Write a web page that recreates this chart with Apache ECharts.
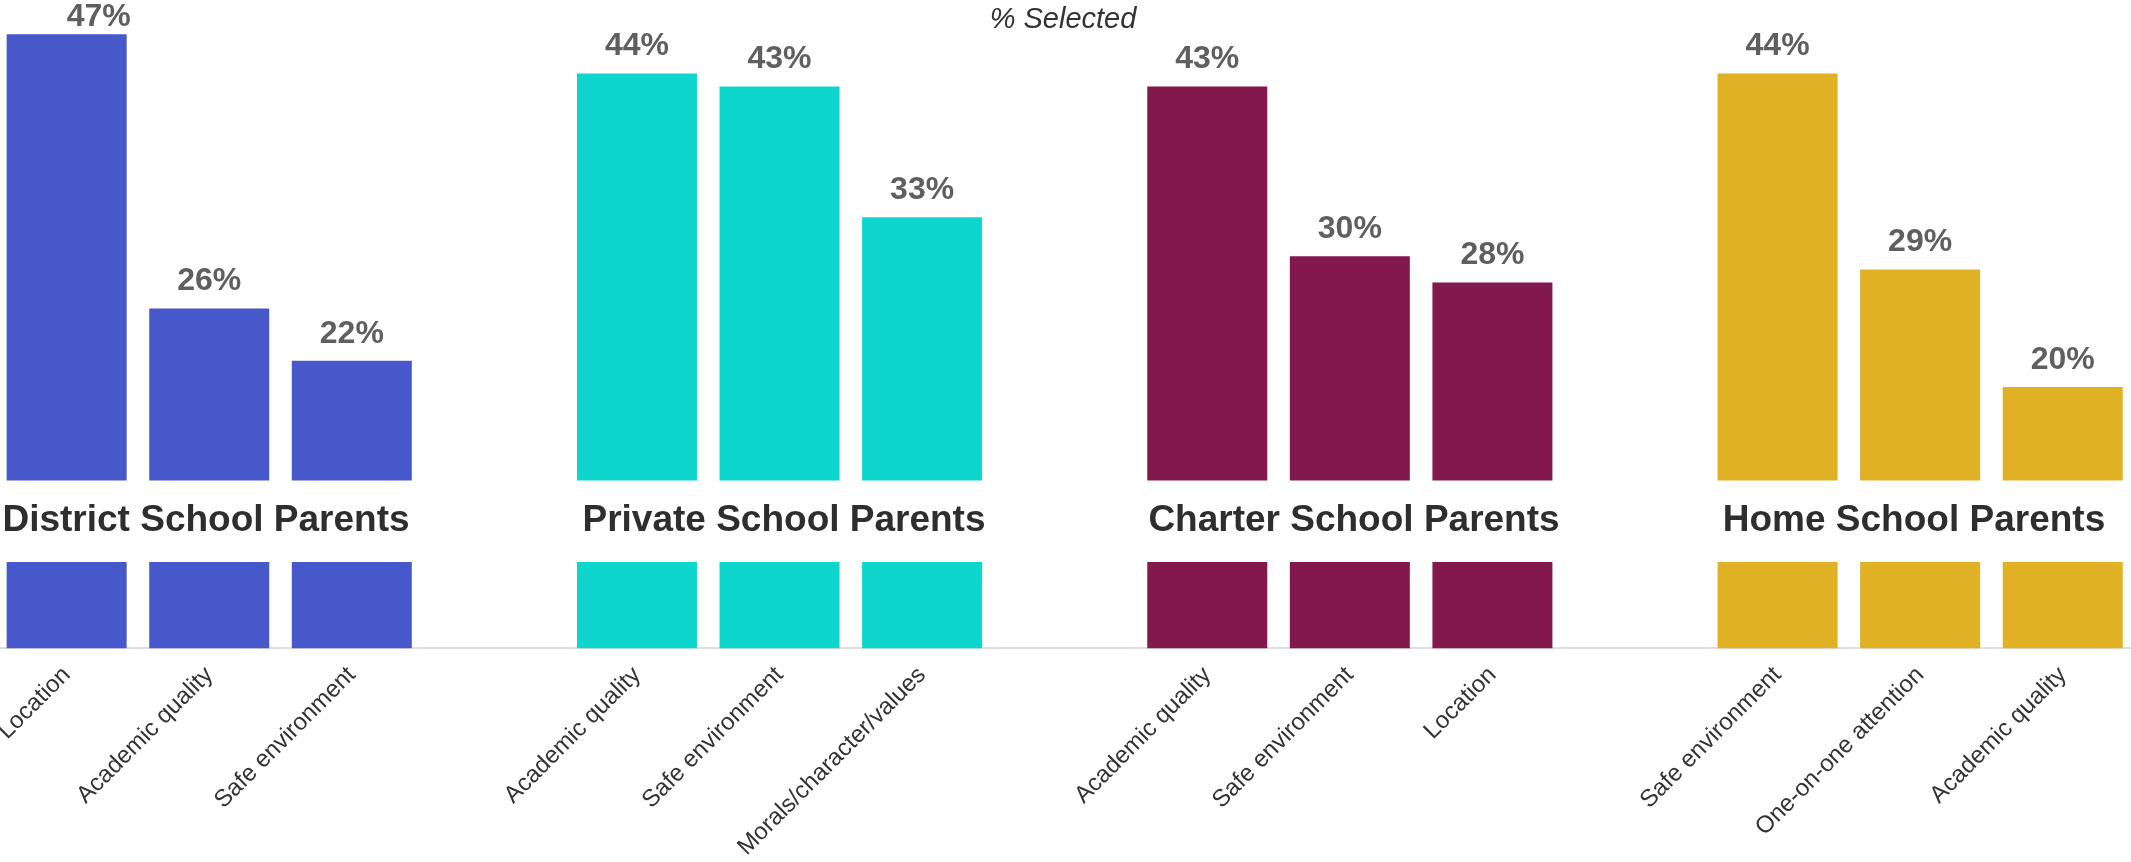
<!DOCTYPE html>
<html>
<head>
<meta charset="utf-8">
<title>% Selected</title>
<script src="https://cdn.jsdelivr.net/npm/echarts@6/dist/echarts.min.js"></script>
<style>
  html, body { margin: 0; padding: 0; background: #ffffff; overflow: hidden; }
  /* the outer bar slots run a few pixels past the page edges */
  #chart { width: 2142px; height: 862px; margin-left: -8px; }
</style>
</head>
<body>
<div id="chart"></div>
<script>
// Parent groups and their top three reasons (% selected)
const groupNames = ['District School Parents', 'Private School Parents', 'Charter School Parents', 'Home School Parents'];
const groupColors = ['#4758CB', '#0FD6CC', '#83184C', '#E0B125'];

const districtReasons = ['Location', 'Academic quality', 'Safe environment'];
const districtValues = [47, 26, 22];

const privateReasons = ['Academic quality', 'Safe environment', 'Morals/character/values'];
const privateValues = [44, 43, 33];

const charterReasons = ['Academic quality', 'Safe environment', 'Location'];
const charterValues = [43, 30, 28];

const homeReasons = ['Safe environment', 'One-on-one attention', 'Academic quality'];
const homeValues = [44, 29, 20];

// Value range hidden behind the band that carries the group names
const bandLow = 6.6;
const bandHigh = 12.85;

// Horizontal centres of the group names on the page
const groupNameCenters = [206, 784, 1354, 1914];
const PAGE_OFFSET = 8;

const groupReasons = [districtReasons, privateReasons, charterReasons, homeReasons];
const groupValues = [districtValues, privateValues, charterValues, homeValues];

// One shared category axis; an empty slot separates consecutive groups
const categories = [];
const barData = [];
groupReasons.forEach(function (reasons, g) {
  if (g > 0) {
    categories.push('');
    barData.push(null);
  }
  reasons.forEach(function (r, i) {
    categories.push(r);
    barData.push({ value: groupValues[g][i], itemStyle: { color: groupColors[g] } });
  });
});

const FONT = "'Liberation Sans', Arial, Helvetica, sans-serif";
const LABEL_MIN_TOP = 1.4;

const chart = echarts.init(document.getElementById('chart'), null, { renderer: 'canvas' });

chart.setOption({
  animation: false,
  backgroundColor: '#ffffff',
  title: {
    text: '% Selected',
    left: 'center',
    top: 0,
    textStyle: {
      fontFamily: FONT,
      fontStyle: 'italic',
      fontWeight: 'normal',
      fontSize: 29,
      color: '#333333'
    }
  },
  grid: {
    left: 0,
    right: 0,
    top: 1.6,
    bottom: 211,
    containLabel: false
  },
  xAxis: {
    type: 'category',
    data: categories,
    axisTick: { show: false },
    axisLine: { show: true, lineStyle: { color: '#DEDEDE', width: 2 } },
    axisLabel: {
      interval: 0,
      rotate: 45,
      margin: 23,
      fontFamily: FONT,
      fontSize: 24,
      color: '#333333'
    }
  },
  yAxis: {
    type: 'value',
    min: 0,
    max: 49.5,
    show: false,
    splitLine: { show: false }
  },
  series: [{
    type: 'bar',
    data: barData,
    barWidth: 120,
    label: {
      show: true,
      position: 'top',
      distance: 11,
      formatter: '{c}%',
      fontFamily: FONT,
      fontWeight: 'bold',
      fontSize: 32,
      color: '#5F5F5F'
    },
    // keep value labels inside the canvas at the top edge
    labelLayout: function (params) {
      if (params.labelRect.y < LABEL_MIN_TOP) {
        return { y: LABEL_MIN_TOP + params.labelRect.height, verticalAlign: 'bottom' };
      }
      return {};
    }
  }]
});

// White band with the group names, placed on the value scale
const yHigh = chart.convertToPixel({ yAxisIndex: 0 }, bandHigh);
const yLow = chart.convertToPixel({ yAxisIndex: 0 }, bandLow);
const bandMid = (yHigh + yLow) / 2;

const graphics = [{
  type: 'rect',
  z: 100,
  shape: { x: 0, y: yHigh, width: chart.getWidth(), height: yLow - yHigh },
  style: { fill: '#ffffff' }
}];
groupNames.forEach(function (name, g) {
  graphics.push({
    type: 'text',
    z: 101,
    x: groupNameCenters[g] + PAGE_OFFSET,
    y: bandMid,
    style: {
      text: name,
      font: 'bold 37px ' + FONT,
      fill: '#2E2E2E',
      textAlign: 'center',
      textVerticalAlign: 'middle'
    }
  });
});
chart.setOption({ graphic: graphics });
</script>
</body>
</html>
